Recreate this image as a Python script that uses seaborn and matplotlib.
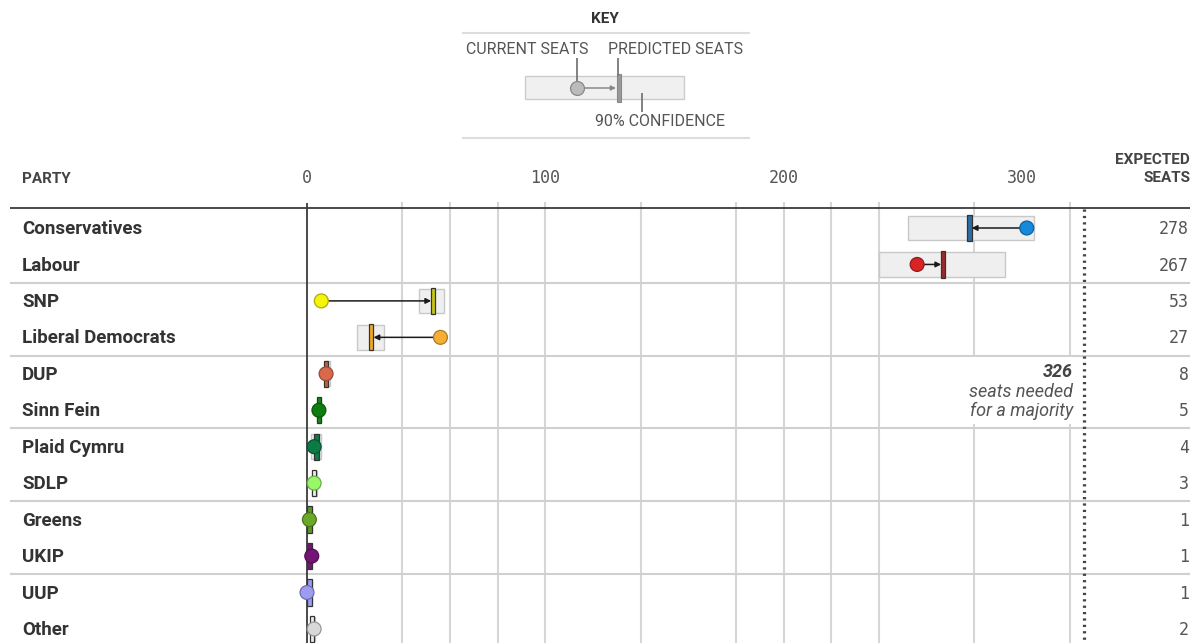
import numpy as np
import pandas as pd
import seaborn as sns
import matplotlib.pyplot as plt
import matplotlib.colors as mcolors
from matplotlib.patches import Rectangle

# seat forecast data
parties = ['Conservatives', 'Labour', 'SNP', 'Liberal Democrats', 'DUP', 'Sinn Fein',
           'Plaid Cymru', 'SDLP', 'Greens', 'UKIP', 'UUP', 'Other']
current_seats = [302, 256, 6, 56, 8, 5, 3, 3, 1, 2, 0, 3]
predicted_seats = [278, 267, 53, 27, 8, 5, 4, 3, 1, 1, 1, 2]
low_90 = [252, 240, 47, 21, 7.5, 4, 1.5, 2, 0.5, 0.5, 0.5, 1.5]
high_90 = [305, 293, 57.5, 32.5, 9.5, 6, 6, 4, 2, 2, 2.2, 3.4]
party_colors = ['#1589dc', '#d82424', '#f5f50a', '#f7ae34', '#d8694a', '#0f7d12',
                '#0c7a45', '#99f76a', '#6aa82a', '#741576', '#9d9cf2', '#d8d8d8']
bar_colors = ['#2b6ea6', '#a12828', '#c9c914', '#f7a820', '#c0603f', '#0f8a12',
              '#0c7a45', '#e8f5e0', '#5a9a22', '#741576', '#9d9cf2', '#eeeeee']
tick_values = [0, 100, 200, 300]
grid_values = [40, 60, 80, 100, 140, 180, 200, 220, 240, 280, 320]
majority = 326

df = pd.DataFrame({'party': parties, 'current': current_seats, 'predicted': predicted_seats,
                   'low': low_90, 'high': high_90})
df['row'] = np.arange(len(df))

sns.set_style('white')
plt.rcParams['font.family'] = ['Roboto', 'DejaVu Sans']

def darker(c, f):
    r, g, b = mcolors.to_rgb(c)
    return (r * f, g * f, b * f)

W, H = 1190, 643
fig = plt.figure(figsize=(W / 100, H / 100), dpi=100)
ax = fig.add_axes([0, 0, 1, 1])

# pixel-based layout: 0 seats at x=307, 300 seats at x=1022; first row at y=228
px_per_seat = (1022 - 307) / 300
row_h = 36.45
def sx(px):
    return (px - 307) / px_per_seat
def ry(py):
    return (py - 228) / row_h

bottom = ry(H)

# grid and separators
ax.vlines(grid_values, ry(202), bottom, color='#d6d6d6', lw=1.5, zorder=1)
ax.vlines(0, ry(203), bottom, color='#3a3a3a', lw=1.3, zorder=4)
ax.hlines(ry(207.5), sx(10), sx(W), color='#3a3a3a', lw=1.3, zorder=4)
ax.hlines(np.arange(1.5, len(df) - 1, 2), sx(10), sx(W), color='#d0d0d0', lw=1.5, zorder=1)

# confidence boxes
ax.barh(df['row'], df['high'] - df['low'], left=df['low'], height=0.68,
        color='#efefef', edgecolor='#c8c8c8', lw=1, zorder=2)

# predicted seats bars
bar_w = 1.8
ax.barh(df['row'], bar_w, left=df['predicted'] - bar_w / 2, height=0.72,
        color=bar_colors, edgecolor='#333333', lw=0.9, zorder=3)

# arrows from current to predicted
for _, r in df.iterrows():
    diff = r['predicted'] - r['current']
    if abs(diff) >= 3:
        end = r['predicted'] - np.sign(diff) * bar_w / 2
        ax.annotate('', xy=(end, r['row']), xytext=(r['current'], r['row']),
                    arrowprops=dict(arrowstyle='-|>', color='#1a1a1a', lw=1.1,
                                    mutation_scale=8, shrinkA=5, shrinkB=0),
                    zorder=5)

# current seats dots
sns.scatterplot(data=df, x='current', y='row', hue='party',
                palette=dict(zip(parties, party_colors)), s=100,
                edgecolor=[darker(c, 0.7) for c in party_colors], linewidth=0.9,
                legend=False, zorder=6, ax=ax)
ax.set_xlim(sx(0), sx(W))
ax.set_ylim(ry(H), ry(0))
ax.axis('off')

# majority line
ax.vlines(majority, ry(209), bottom, color='#444444', lw=2.3,
          linestyles=(0, (0.7, 1.3)), zorder=4)
ax.add_patch(Rectangle((sx(960), ry(357)), sx(1074) - sx(960), ry(424) - ry(357),
                       facecolor='white', edgecolor='none', zorder=3))
ax.text(sx(1073), ry(372), str(majority), ha='right', va='center', fontsize=13,
        fontweight='bold', style='italic', color='#444444', zorder=5)
ax.text(sx(1073), ry(392), 'seats needed', ha='right', va='center', fontsize=13,
        style='italic', color='#555555', zorder=5)
ax.text(sx(1073), ry(411), 'for a majority', ha='right', va='center', fontsize=13,
        style='italic', color='#555555', zorder=5)

# labels
ytr = ax.get_yaxis_transform()
for _, r in df.iterrows():
    ax.text(22 / W, r['row'] + 0.03, r['party'], transform=ytr, ha='left', va='center',
            fontsize=13.5, fontweight='bold', color='#333333')
    ax.text(1189 / W, r['row'] + 0.03, str(r['predicted']), transform=ytr, ha='right', va='center',
            fontsize=12, family='DejaVu Sans Mono', color='#555555')

for t in tick_values:
    ax.text(t, ry(178), str(t), ha='center', va='center', fontsize=12,
            family='DejaVu Sans Mono', color='#555555')

ax.text(22 / W, ry(179), 'PARTY', transform=ytr, ha='left', va='center',
        fontsize=11, fontweight='bold', color='#444444')
ax.text(1190 / W, ry(169), 'EXPECTED\nSEATS', transform=ytr, ha='right', va='center',
        fontsize=11, fontweight='bold', color='#444444', linespacing=1.3)

# key
kx = fig.add_axes([462 / W, 1 - 145 / H, 288 / W, 145 / H])
kx.set_xlim(462, 750)
kx.set_ylim(145, 0)
kx.axis('off')
kx.patch.set_alpha(0)
kx.text(605, 19, 'KEY', ha='center', va='center', fontsize=11, fontweight='bold', color='#333333')
kx.hlines([33, 138], 462, 750, color='#dddddd', lw=1.5)
kx.text(527, 50, 'CURRENT SEATS', ha='center', va='center', fontsize=11.5, color='#555555')
kx.text(676, 50, 'PREDICTED SEATS', ha='center', va='center', fontsize=11.5, color='#555555')
kx.text(660, 121, '90% CONFIDENCE', ha='center', va='center', fontsize=11.5, color='#555555')
kx.add_patch(Rectangle((525, 76), 159, 23, facecolor='#f0f0f0', edgecolor='#cccccc', lw=1))
kx.vlines(577, 58, 84, color='#777777', lw=1.3)
kx.vlines(618, 58, 76, color='#777777', lw=1.3)
kx.vlines(642, 93, 112, color='#777777', lw=1.3)
kx.annotate('', xy=(616, 88), xytext=(577, 88),
            arrowprops=dict(arrowstyle='-|>', color='#888888', lw=1.1,
                            mutation_scale=7, shrinkA=5, shrinkB=0))
kx.add_patch(Rectangle((616.5, 74), 4, 28, facecolor='#999999', edgecolor='#888888', lw=0.8))
kx.scatter([577], [88], s=100, color='#bbbbbb', edgecolor='#888888', lw=0.9, zorder=5)

fig.savefig('out.png', dpi=100, facecolor='white')
